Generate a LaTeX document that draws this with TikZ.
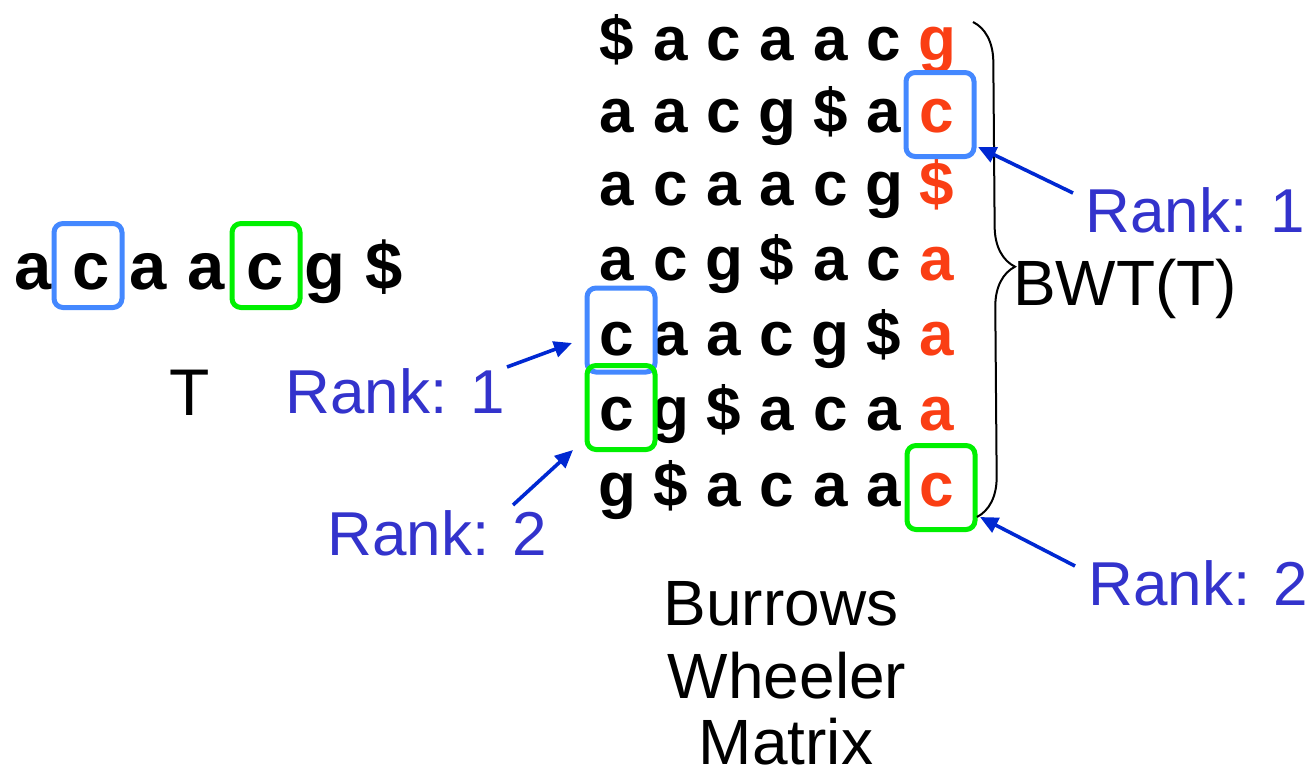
\documentclass[tikz,border=0pt]{standalone}
\usepackage{fontspec}
\setmainfont{Liberation Sans}
\usetikzlibrary{arrows.meta,decorations.pathreplacing}
\definecolor{bwtred}{RGB}{250,62,20}
\definecolor{boxblue}{RGB}{68,136,255}
\definecolor{boxgreen}{RGB}{0,240,0}
\definecolor{rankblue}{RGB}{51,51,204}
\definecolor{arrowblue}{RGB}{0,40,210}
\newcommand\myfs[1]{\fontsize{#1}{#1}\selectfont}
\tikzset{
  mletter/.style={anchor=base, inner sep=0pt, font=\myfs{62}\bfseries},
  tletter/.style={anchor=base, inner sep=0pt, font=\myfs{67}\bfseries},
  lastcol/.style={mletter, text=bwtred},
  hbox/.style={draw, line width=5pt, rounded corners=9pt, minimum width=68pt, minimum height=84pt, inner sep=0pt},
  bluebox/.style={hbox, draw=boxblue},
  greenbox/.style={hbox, draw=boxgreen},
  ranklabel/.style={anchor=base, inner sep=0pt, text=rankblue, font=\myfs{62}},
  plainlabel/.style={anchor=base, inner sep=0pt, font=\myfs{64}},
  rankarrow/.style={draw=arrowblue, line width=3.6pt, -{Triangle[length=18pt,width=16pt]}},
}
\begin{document}
\begin{tikzpicture}[x=1pt,y=-1pt]
\path[use as bounding box] (0,0) rectangle (1310,779);

% text T
\foreach \ch [count=\i] in {a,c,a,a,c,g,\$} {
  \pgfmathsetmacro\xx{{33,91,148,206,265,325,384}[\i-1]}
  \node[tletter] (t\i) at (\xx,289) {\ch};
}
\node[bluebox] (tb1) at (88,265.5) {};
\node[greenbox] (tb2) at (266,265.5) {};
\node[plainlabel, font=\myfs{66}] (Tlab) at (190,415) {T};

% matrix
\def\colx{{617,670.5,724,777,830.5,884,937}}
\def\rowy{{60,132,205,280,355,430,506}}
\foreach \row [count=\r] in {{\$,a,c,a,a,c},{a,a,c,g,\$,a},{a,c,a,a,c,g},{a,c,g,\$,a,c},{c,a,a,c,g,\$},{c,g,\$,a,c,a},{g,\$,a,c,a,a}} {
  \foreach \ch [count=\c] in \row {
    \pgfmathsetmacro\xx{\colx[\c-1]}
    \pgfmathsetmacro\yy{\rowy[\r-1]}
    \node[mletter] (m\r-\c) at (\xx,\yy) {\ch};
  }
}
\foreach \ch [count=\r] in {g,c,\$,a,a,a,c} {
  \pgfmathsetmacro\yy{\rowy[\r-1]}
  \node[lastcol] (m\r-7) at (937,\yy) {\ch};
}

\node[bluebox] (bR) at (940,114.5) {};
\node[bluebox] (bL) at (621,330) {};
\node[greenbox] (gL) at (621,407.5) {};
\node[greenbox] (gR) at (941,487.5) {};

% brace
\coordinate (brtop) at (973,22);
\coordinate (brbot) at (977,517);
\draw[line width=2pt, decorate, decoration={brace, amplitude=40pt, aspect=0.495}] (brtop) -- (brbot);
\node[plainlabel] (bwt) at (1125,305) {BWT(T)};

% rank labels
\node[ranklabel] (rl1) at (395,413) {Rank: 1};
\node[ranklabel] (rl2) at (437,555) {Rank: 2};
\node[ranklabel] (rr1) at (1195,232) {Rank: 1};
\node[ranklabel] (rr2) at (1198,605) {Rank: 2};

\coordinate (al1s) at (507,367);
\coordinate (al1e) at (572,343);
\coordinate (al2s) at (513,505);
\coordinate (al2e) at (573,450);
\coordinate (ar1s) at (1073,193);
\coordinate (ar1e) at (978,147);
\coordinate (ar2s) at (1075,566);
\coordinate (ar2e) at (980,517);
\draw[rankarrow] (al1s) -- (al1e);
\draw[rankarrow] (al2s) -- (al2e);
\draw[rankarrow] (ar1s) -- (ar1e);
\draw[rankarrow] (ar2s) -- (ar2e);

% caption
\node[plainlabel] (cap1) at (781,625) {Burrows};
\node[plainlabel] (cap2) at (787,698) {Wheeler};
\node[plainlabel] (cap3) at (786,764) {Matrix};
\end{tikzpicture}
\end{document}
